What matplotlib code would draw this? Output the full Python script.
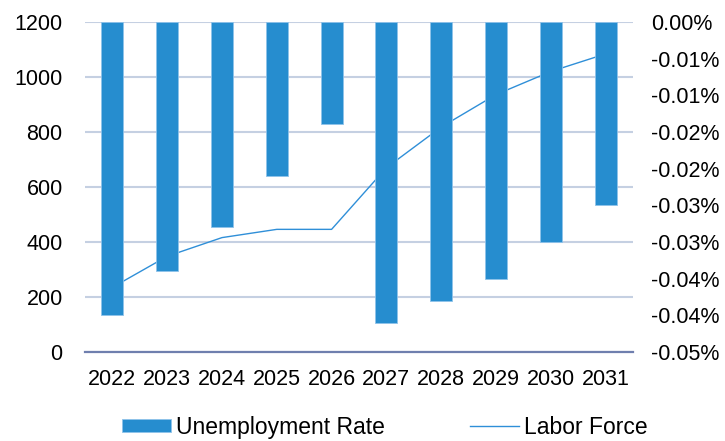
import numpy as np
import matplotlib.pyplot as plt
from matplotlib.ticker import FuncFormatter

plt.rcParams['font.family'] = ['Liberation Sans', 'DejaVu Sans']

years = ['2022', '2023', '2024', '2025', '2026', '2027', '2028', '2029', '2030', '2031']
unemployment_rate = [-0.0444, -0.0378, -0.0311, -0.0233, -0.0155, -0.0456, -0.0422, -0.0389, -0.0333, -0.0278]
labor_force = [235, 348, 416, 446, 446, 670, 818, 936, 1020, 1084]

bar_color = '#268dcf'
line_color = '#2f8fd8'
grid_color = '#c5d0e2'
fs = 15.5

fig = plt.figure(figsize=(7.25, 4.41), dpi=100)
ax1 = fig.add_axes([0.1172, 0.2018, 0.7559, 0.7483])
ax2 = ax1.twinx()

x = np.arange(len(years))

# labor force on the left axis, drawn underneath the bars
ax1.plot(x, labor_force, color=line_color, linewidth=1.0, label='Labor Force')
ax1.set_ylim(0, 1200)
ax1.set_yticks(np.arange(0, 1201, 200))
ax1.set_xlim(-0.5, len(years) - 0.5)
ax1.set_xticks(x)
ax1.set_xticklabels(years)
ax1.grid(axis='y', color=grid_color, linewidth=1.5)
ax1.set_axisbelow(True)

# unemployment rate bars hang from zero on the right axis
ax2.bar(x, unemployment_rate, width=0.4, color=bar_color, edgecolor='#8fc3ea',
        linewidth=0.6, label='Unemployment Rate')
ax2.set_ylim(-0.05, 0)
ax2.set_yticks(np.linspace(0, -0.05, 10))
ax2.yaxis.set_major_formatter(FuncFormatter(lambda v, p: '{:.2f}%'.format(v + 0.0)))

for ax in (ax1, ax2):
    for side in ('top', 'left', 'right', 'bottom'):
        ax.spines[side].set_visible(False)
ax1.spines['bottom'].set_visible(True)
ax1.spines['bottom'].set_color('#6f7fae')
ax1.spines['bottom'].set_linewidth(1.6)

ax1.tick_params(axis='y', length=0, pad=16, labelsize=fs)
ax1.tick_params(axis='x', length=0, pad=12, labelsize=fs)
ax2.tick_params(axis='y', length=0, pad=13, labelsize=fs)

h2, l2 = ax2.get_legend_handles_labels()
h1, l1 = ax1.get_legend_handles_labels()
fig.legend(h2 + h1, l2 + l1, loc='center', bbox_to_anchor=(0.531, 0.031), ncol=2,
           frameon=False, fontsize=16.5, handlelength=2.14, handleheight=0.5,
           handletextpad=0.22, columnspacing=3.7)

fig.savefig('out.png', dpi=100)
